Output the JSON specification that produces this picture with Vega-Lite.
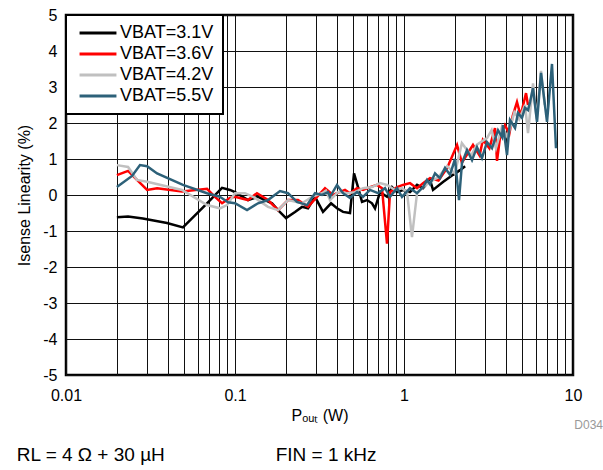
{
  "$schema": "https://vega.github.io/schema/vega-lite/v6.json",
  "width": 507,
  "height": 360,
  "autosize": {"type": "none"},
  "padding": {"left": 66, "top": 15, "right": 30, "bottom": 95},
  "background": "white",
  "config": {
    "font": "Liberation Sans",
    "view": {"stroke": "black", "strokeWidth": 2.5},
    "legend": {"strokeWidth": 2},
    "axis": {"labelOverlap": false}
  },
  "title": {
    "text": "RL = 4 Ω + 30 µH\u00a0\u00a0\u00a0\u00a0\u00a0\u00a0\u00a0\u00a0\u00a0\u00a0\u00a0\u00a0\u00a0\u00a0\u00a0\u00a0\u00a0\u00a0\u00a0\u00a0\u00a0FIN = 1 kHz",
    "orient": "bottom",
    "anchor": "start",
    "frame": "bounds",
    "fontSize": 19,
    "fontWeight": "normal",
    "color": "black",
    "offset": 15
  },
  "resolve": {"axis": {"x": "independent", "y": "independent"}},
  "datasets": {
    "curves": [
      {"P": 0.02, "v": -0.62, "s": "VBAT=3.1V"},
      {"P": 0.0233, "v": -0.6, "s": "VBAT=3.1V"},
      {"P": 0.0285, "v": -0.65, "s": "VBAT=3.1V"},
      {"P": 0.0396, "v": -0.78, "s": "VBAT=3.1V"},
      {"P": 0.0492, "v": -0.9, "s": "VBAT=3.1V"},
      {"P": 0.0683, "v": -0.23, "s": "VBAT=3.1V"},
      {"P": 0.0838, "v": 0.2, "s": "VBAT=3.1V"},
      {"P": 0.0934, "v": 0.14, "s": "VBAT=3.1V"},
      {"P": 0.1, "v": 0.08, "s": "VBAT=3.1V"},
      {"P": 0.1194, "v": -0.14, "s": "VBAT=3.1V"},
      {"P": 0.1368, "v": -0.05, "s": "VBAT=3.1V"},
      {"P": 0.1656, "v": -0.23, "s": "VBAT=3.1V"},
      {"P": 0.1797, "v": -0.42, "s": "VBAT=3.1V"},
      {"P": 0.2004, "v": -0.64, "s": "VBAT=3.1V"},
      {"P": 0.2265, "v": -0.47, "s": "VBAT=3.1V"},
      {"P": 0.2492, "v": -0.33, "s": "VBAT=3.1V"},
      {"P": 0.2704, "v": -0.37, "s": "VBAT=3.1V"},
      {"P": 0.2975, "v": -0.05, "s": "VBAT=3.1V"},
      {"P": 0.3317, "v": -0.47, "s": "VBAT=3.1V"},
      {"P": 0.37, "v": -0.23, "s": "VBAT=3.1V"},
      {"P": 0.4014, "v": -0.37, "s": "VBAT=3.1V"},
      {"P": 0.4357, "v": -0.47, "s": "VBAT=3.1V"},
      {"P": 0.4792, "v": -0.5, "s": "VBAT=3.1V"},
      {"P": 0.5061, "v": 0.6, "s": "VBAT=3.1V"},
      {"P": 0.5344, "v": 0.22, "s": "VBAT=3.1V"},
      {"P": 0.5644, "v": -0.19, "s": "VBAT=3.1V"},
      {"P": 0.6041, "v": -0.14, "s": "VBAT=3.1V"},
      {"P": 0.6467, "v": -0.23, "s": "VBAT=3.1V"},
      {"P": 0.6737, "v": -0.37, "s": "VBAT=3.1V"},
      {"P": 0.7211, "v": 0.08, "s": "VBAT=3.1V"},
      {"P": 0.7933, "v": -0.05, "s": "VBAT=3.1V"},
      {"P": 0.8492, "v": 0.22, "s": "VBAT=3.1V"},
      {"P": 0.9092, "v": 0.08, "s": "VBAT=3.1V"},
      {"P": 0.9865, "v": 0.14, "s": "VBAT=3.1V"},
      {"P": 1.085, "v": 0.08, "s": "VBAT=3.1V"},
      {"P": 1.194, "v": 0.28, "s": "VBAT=3.1V"},
      {"P": 1.296, "v": 0.19, "s": "VBAT=3.1V"},
      {"P": 1.425, "v": 0.42, "s": "VBAT=3.1V"},
      {"P": 1.485, "v": 0.14, "s": "VBAT=3.1V"},
      {"P": 1.701, "v": 0.36, "s": "VBAT=3.1V"},
      {"P": 1.95, "v": 0.56, "s": "VBAT=3.1V"},
      {"P": 2.145, "v": 0.69, "s": "VBAT=3.1V"},
      {"P": 2.3, "v": 0.8, "s": "VBAT=3.1V"},

      {"P": 0.02, "v": 0.55, "s": "VBAT=3.6V"},
      {"P": 0.0233, "v": 0.67, "s": "VBAT=3.6V"},
      {"P": 0.0263, "v": 0.42, "s": "VBAT=3.6V"},
      {"P": 0.0302, "v": 0.14, "s": "VBAT=3.6V"},
      {"P": 0.0346, "v": 0.19, "s": "VBAT=3.6V"},
      {"P": 0.0486, "v": 0.1, "s": "VBAT=3.6V"},
      {"P": 0.0683, "v": 0.17, "s": "VBAT=3.6V"},
      {"P": 0.0761, "v": -0.05, "s": "VBAT=3.6V"},
      {"P": 0.0838, "v": -0.23, "s": "VBAT=3.6V"},
      {"P": 0.0934, "v": -0.08, "s": "VBAT=3.6V"},
      {"P": 0.1, "v": -0.05, "s": "VBAT=3.6V"},
      {"P": 0.1194, "v": -0.14, "s": "VBAT=3.6V"},
      {"P": 0.1349, "v": 0.05, "s": "VBAT=3.6V"},
      {"P": 0.1568, "v": -0.14, "s": "VBAT=3.6V"},
      {"P": 0.1797, "v": -0.42, "s": "VBAT=3.6V"},
      {"P": 0.2059, "v": -0.14, "s": "VBAT=3.6V"},
      {"P": 0.236, "v": -0.14, "s": "VBAT=3.6V"},
      {"P": 0.2704, "v": -0.33, "s": "VBAT=3.6V"},
      {"P": 0.3057, "v": -0.05, "s": "VBAT=3.6V"},
      {"P": 0.3409, "v": 0.19, "s": "VBAT=3.6V"},
      {"P": 0.3801, "v": 0.0, "s": "VBAT=3.6V"},
      {"P": 0.4014, "v": 0.05, "s": "VBAT=3.6V"},
      {"P": 0.4477, "v": 0.14, "s": "VBAT=3.6V"},
      {"P": 0.4792, "v": 0.05, "s": "VBAT=3.6V"},
      {"P": 0.5272, "v": 0.19, "s": "VBAT=3.6V"},
      {"P": 0.5722, "v": 0.14, "s": "VBAT=3.6V"},
      {"P": 0.6292, "v": 0.22, "s": "VBAT=3.6V"},
      {"P": 0.6923, "v": 0.28, "s": "VBAT=3.6V"},
      {"P": 0.7411, "v": 0.19, "s": "VBAT=3.6V"},
      {"P": 0.7933, "v": -1.35, "s": "VBAT=3.6V"},
      {"P": 0.8264, "v": 0.08, "s": "VBAT=3.6V"},
      {"P": 0.9092, "v": 0.22, "s": "VBAT=3.6V"},
      {"P": 0.9865, "v": 0.28, "s": "VBAT=3.6V"},
      {"P": 1.085, "v": 0.33, "s": "VBAT=3.6V"},
      {"P": 1.194, "v": 0.19, "s": "VBAT=3.6V"},
      {"P": 1.296, "v": 0.33, "s": "VBAT=3.6V"},
      {"P": 1.425, "v": 0.47, "s": "VBAT=3.6V"},
      {"P": 1.6, "v": 0.4, "s": "VBAT=3.6V"},
      {"P": 1.8, "v": 0.75, "s": "VBAT=3.6V"},
      {"P": 2.06, "v": 1.39, "s": "VBAT=3.6V"},
      {"P": 2.2, "v": 0.9, "s": "VBAT=3.6V"},
      {"P": 2.56, "v": 1.39, "s": "VBAT=3.6V"},
      {"P": 2.8, "v": 1.1, "s": "VBAT=3.6V"},
      {"P": 2.93, "v": 1.53, "s": "VBAT=3.6V"},
      {"P": 3.2, "v": 1.3, "s": "VBAT=3.6V"},
      {"P": 3.456, "v": 1.86, "s": "VBAT=3.6V"},
      {"P": 3.551, "v": 0.95, "s": "VBAT=3.6V"},
      {"P": 3.7, "v": 1.6, "s": "VBAT=3.6V"},
      {"P": 3.959, "v": 1.94, "s": "VBAT=3.6V"},
      {"P": 4.2, "v": 1.7, "s": "VBAT=3.6V"},
      {"P": 4.4, "v": 2.2, "s": "VBAT=3.6V"},
      {"P": 4.662, "v": 2.58, "s": "VBAT=3.6V"},
      {"P": 4.9, "v": 2.2, "s": "VBAT=3.6V"},
      {"P": 5.272, "v": 2.83, "s": "VBAT=3.6V"},
      {"P": 5.417, "v": 2.5, "s": "VBAT=3.6V"},

      {"P": 0.02, "v": 0.83, "s": "VBAT=4.2V"},
      {"P": 0.0233, "v": 0.78, "s": "VBAT=4.2V"},
      {"P": 0.0263, "v": 0.42, "s": "VBAT=4.2V"},
      {"P": 0.0302, "v": 0.37, "s": "VBAT=4.2V"},
      {"P": 0.0486, "v": 0.14, "s": "VBAT=4.2V"},
      {"P": 0.0683, "v": -0.28, "s": "VBAT=4.2V"},
      {"P": 0.0815, "v": -0.37, "s": "VBAT=4.2V"},
      {"P": 0.0897, "v": -0.28, "s": "VBAT=4.2V"},
      {"P": 0.1, "v": 0.05, "s": "VBAT=4.2V"},
      {"P": 0.1146, "v": 0.05, "s": "VBAT=4.2V"},
      {"P": 0.1313, "v": -0.08, "s": "VBAT=4.2V"},
      {"P": 0.1568, "v": -0.33, "s": "VBAT=4.2V"},
      {"P": 0.1797, "v": -0.42, "s": "VBAT=4.2V"},
      {"P": 0.2059, "v": -0.14, "s": "VBAT=4.2V"},
      {"P": 0.2492, "v": -0.23, "s": "VBAT=4.2V"},
      {"P": 0.2856, "v": -0.05, "s": "VBAT=4.2V"},
      {"P": 0.3272, "v": 0.05, "s": "VBAT=4.2V"},
      {"P": 0.3451, "v": 0.12, "s": "VBAT=4.2V"},
      {"P": 0.3649, "v": -0.14, "s": "VBAT=4.2V"},
      {"P": 0.4069, "v": 0.08, "s": "VBAT=4.2V"},
      {"P": 0.4599, "v": 0.05, "s": "VBAT=4.2V"},
      {"P": 0.5131, "v": 0.08, "s": "VBAT=4.2V"},
      {"P": 0.5722, "v": 0.19, "s": "VBAT=4.2V"},
      {"P": 0.6467, "v": 0.22, "s": "VBAT=4.2V"},
      {"P": 0.7211, "v": 0.33, "s": "VBAT=4.2V"},
      {"P": 0.7933, "v": 0.28, "s": "VBAT=4.2V"},
      {"P": 0.8847, "v": 0.14, "s": "VBAT=4.2V"},
      {"P": 0.9731, "v": 0.19, "s": "VBAT=4.2V"},
      {"P": 1.042, "v": 0.08, "s": "VBAT=4.2V"},
      {"P": 1.115, "v": -1.17, "s": "VBAT=4.2V"},
      {"P": 1.194, "v": 0.05, "s": "VBAT=4.2V"},
      {"P": 1.296, "v": 0.22, "s": "VBAT=4.2V"},
      {"P": 1.425, "v": 0.36, "s": "VBAT=4.2V"},
      {"P": 1.6, "v": 0.5, "s": "VBAT=4.2V"},
      {"P": 1.8, "v": 0.8, "s": "VBAT=4.2V"},
      {"P": 2.0, "v": 0.6, "s": "VBAT=4.2V"},
      {"P": 2.2, "v": 1.44, "s": "VBAT=4.2V"},
      {"P": 2.5, "v": 1.1, "s": "VBAT=4.2V"},
      {"P": 2.7, "v": 1.4, "s": "VBAT=4.2V"},
      {"P": 3.1, "v": 1.58, "s": "VBAT=4.2V"},
      {"P": 3.3, "v": 1.8, "s": "VBAT=4.2V"},
      {"P": 3.5, "v": 1.3, "s": "VBAT=4.2V"},
      {"P": 3.8, "v": 1.9, "s": "VBAT=4.2V"},
      {"P": 4.1, "v": 1.6, "s": "VBAT=4.2V"},
      {"P": 4.5, "v": 2.3, "s": "VBAT=4.2V"},
      {"P": 4.8, "v": 2.1, "s": "VBAT=4.2V"},
      {"P": 5.2, "v": 2.5, "s": "VBAT=4.2V"},
      {"P": 5.417, "v": 1.72, "s": "VBAT=4.2V"},
      {"P": 5.8, "v": 3.1, "s": "VBAT=4.2V"},
      {"P": 6.1, "v": 2.1, "s": "VBAT=4.2V"},
      {"P": 6.467, "v": 3.45, "s": "VBAT=4.2V"},
      {"P": 6.8, "v": 2.5, "s": "VBAT=4.2V"},

      {"P": 0.02, "v": 0.22, "s": "VBAT=5.5V"},
      {"P": 0.0246, "v": 0.53, "s": "VBAT=5.5V"},
      {"P": 0.0274, "v": 0.83, "s": "VBAT=5.5V"},
      {"P": 0.0302, "v": 0.8, "s": "VBAT=5.5V"},
      {"P": 0.0346, "v": 0.6, "s": "VBAT=5.5V"},
      {"P": 0.0492, "v": 0.28, "s": "VBAT=5.5V"},
      {"P": 0.0683, "v": 0.05, "s": "VBAT=5.5V"},
      {"P": 0.0815, "v": -0.05, "s": "VBAT=5.5V"},
      {"P": 0.0909, "v": -0.2, "s": "VBAT=5.5V"},
      {"P": 0.1, "v": -0.23, "s": "VBAT=5.5V"},
      {"P": 0.1178, "v": -0.42, "s": "VBAT=5.5V"},
      {"P": 0.1368, "v": -0.23, "s": "VBAT=5.5V"},
      {"P": 0.1568, "v": -0.14, "s": "VBAT=5.5V"},
      {"P": 0.1846, "v": 0.11, "s": "VBAT=5.5V"},
      {"P": 0.2059, "v": 0.05, "s": "VBAT=5.5V"},
      {"P": 0.2328, "v": -0.19, "s": "VBAT=5.5V"},
      {"P": 0.2667, "v": -0.28, "s": "VBAT=5.5V"},
      {"P": 0.2975, "v": 0.05, "s": "VBAT=5.5V"},
      {"P": 0.3272, "v": 0.0, "s": "VBAT=5.5V"},
      {"P": 0.3551, "v": 0.08, "s": "VBAT=5.5V"},
      {"P": 0.3649, "v": -0.05, "s": "VBAT=5.5V"},
      {"P": 0.4014, "v": 0.28, "s": "VBAT=5.5V"},
      {"P": 0.4357, "v": 0.05, "s": "VBAT=5.5V"},
      {"P": 0.4792, "v": -0.08, "s": "VBAT=5.5V"},
      {"P": 0.5272, "v": 0.08, "s": "VBAT=5.5V"},
      {"P": 0.5722, "v": -0.05, "s": "VBAT=5.5V"},
      {"P": 0.6292, "v": 0.14, "s": "VBAT=5.5V"},
      {"P": 0.7019, "v": 0.05, "s": "VBAT=5.5V"},
      {"P": 0.772, "v": 0.19, "s": "VBAT=5.5V"},
      {"P": 0.8264, "v": -0.05, "s": "VBAT=5.5V"},
      {"P": 0.9092, "v": 0.19, "s": "VBAT=5.5V"},
      {"P": 0.9731, "v": -0.05, "s": "VBAT=5.5V"},
      {"P": 1.085, "v": 0.19, "s": "VBAT=5.5V"},
      {"P": 1.194, "v": 0.05, "s": "VBAT=5.5V"},
      {"P": 1.296, "v": 0.22, "s": "VBAT=5.5V"},
      {"P": 1.368, "v": 0.42, "s": "VBAT=5.5V"},
      {"P": 1.425, "v": 0.3, "s": "VBAT=5.5V"},
      {"P": 1.526, "v": 0.6, "s": "VBAT=5.5V"},
      {"P": 1.633, "v": 0.47, "s": "VBAT=5.5V"},
      {"P": 1.748, "v": 0.75, "s": "VBAT=5.5V"},
      {"P": 1.872, "v": 0.56, "s": "VBAT=5.5V"},
      {"P": 2.004, "v": 1.0, "s": "VBAT=5.5V"},
      {"P": 2.116, "v": -0.14, "s": "VBAT=5.5V"},
      {"P": 2.204, "v": 0.89, "s": "VBAT=5.5V"},
      {"P": 2.36, "v": 1.25, "s": "VBAT=5.5V"},
      {"P": 2.526, "v": 0.97, "s": "VBAT=5.5V"},
      {"P": 2.704, "v": 1.33, "s": "VBAT=5.5V"},
      {"P": 2.894, "v": 1.03, "s": "VBAT=5.5V"},
      {"P": 3.098, "v": 1.47, "s": "VBAT=5.5V"},
      {"P": 3.317, "v": 1.3, "s": "VBAT=5.5V"},
      {"P": 3.6, "v": 1.8, "s": "VBAT=5.5V"},
      {"P": 3.801, "v": 1.61, "s": "VBAT=5.5V"},
      {"P": 3.853, "v": 1.94, "s": "VBAT=5.5V"},
      {"P": 4.069, "v": 1.11, "s": "VBAT=5.5V"},
      {"P": 4.239, "v": 2.08, "s": "VBAT=5.5V"},
      {"P": 4.539, "v": 1.86, "s": "VBAT=5.5V"},
      {"P": 4.727, "v": 2.28, "s": "VBAT=5.5V"},
      {"P": 4.992, "v": 2.14, "s": "VBAT=5.5V"},
      {"P": 5.2, "v": 2.42, "s": "VBAT=5.5V"},
      {"P": 5.417, "v": 2.36, "s": "VBAT=5.5V"},
      {"P": 5.567, "v": 2.58, "s": "VBAT=5.5V"},
      {"P": 5.799, "v": 2.97, "s": "VBAT=5.5V"},
      {"P": 6.124, "v": 2.03, "s": "VBAT=5.5V"},
      {"P": 6.467, "v": 3.39, "s": "VBAT=5.5V"},
      {"P": 7.019, "v": 2.03, "s": "VBAT=5.5V"},
      {"P": 7.511, "v": 3.64, "s": "VBAT=5.5V"},
      {"P": 7.933, "v": 1.3, "s": "VBAT=5.5V"}
    ],
    "note": [{"t": "D034"}]
  },
  "layer": [
    {
      "data": {"name": "curves"},
      "mark": {"type": "line", "strokeWidth": 2.5, "clip": true},
      "encoding": {
        "x": {
          "field": "P",
          "type": "quantitative",
          "scale": {"type": "log", "domain": [0.01, 10], "nice": false},
          "axis": {
            "values": [0.01, 0.02, 0.03, 0.04, 0.05, 0.06, 0.07, 0.08, 0.09, 0.1, 0.2, 0.3, 0.4, 0.5, 0.6, 0.7, 0.8, 0.9, 1, 2, 3, 4, 5, 6, 7, 8, 9, 10],
            "labelExpr": "datum.value == 0.01 ? '0.01' : datum.value == 0.1 ? '0.1' : datum.value == 1 ? '1' : datum.value == 10 ? '10' : ''",
            "grid": true,
            "gridColor": "#111",
            "gridWidth": 1,
            "gridOpacity": 1,
            "ticks": false,
            "domain": false,
            "labelFontSize": 16,
            "labelColor": "black",
            "labelPadding": 12,
            "labelFlush": false,
            "labelOverlap": false,
            "title": "Pₒᵤₜ (W)",
            "titleFontSize": 16,
            "titleFontWeight": "normal",
            "titleColor": "black",
            "titlePadding": 4
          }
        },
        "y": {
          "field": "v",
          "type": "quantitative",
          "scale": {"domain": [-5, 5], "nice": false},
          "axis": {
            "values": [-5, -4, -3, -2, -1, 0, 1, 2, 3, 4, 5],
            "labelExpr": "toString(datum.value)",
            "grid": true,
            "gridColor": "#111",
            "gridWidth": 1,
            "gridOpacity": 1,
            "ticks": false,
            "domain": false,
            "labelFontSize": 16,
            "labelColor": "black",
            "labelPadding": 9,
            "labelFlush": false,
            "labelOverlap": false,
            "title": "Isense Linearity (%)",
            "titleFontSize": 16,
            "titleFontWeight": "normal",
            "titleColor": "black",
            "titlePadding": 10
          }
        },
        "color": {
          "field": "s",
          "type": "nominal",
          "scale": {
            "domain": ["VBAT=3.1V", "VBAT=3.6V", "VBAT=4.2V", "VBAT=5.5V"],
            "range": ["#000000", "#ff0000", "#c0c0c0", "#2d6179"]
          },
          "legend": {
            "title": null,
            "orient": "top-left",
            "offset": 0,
            "fillColor": "white",
            "strokeColor": "black",
            "padding": 9,
            "symbolType": "M-4.1,0H4.1",
            "symbolSize": 81,
            "symbolOffset": 14,
            "symbolStrokeWidth": 3,
            "labelFontSize": 18,
            "labelColor": "black",
            "labelOffset": 13,
            "rowPadding": 3,
            "labelLimit": 300
          }
        }
      }
    },
    {
      "data": {"name": "note"},
      "mark": {"type": "text", "align": "right", "baseline": "middle", "fontSize": 12, "color": "#999999", "dx": 30, "dy": 50},
      "encoding": {
        "x": {"datum": 10, "type": "quantitative", "axis": null},
        "y": {"datum": -5, "type": "quantitative", "axis": null},
        "text": {"field": "t"}
      }
    }
  ]
}
